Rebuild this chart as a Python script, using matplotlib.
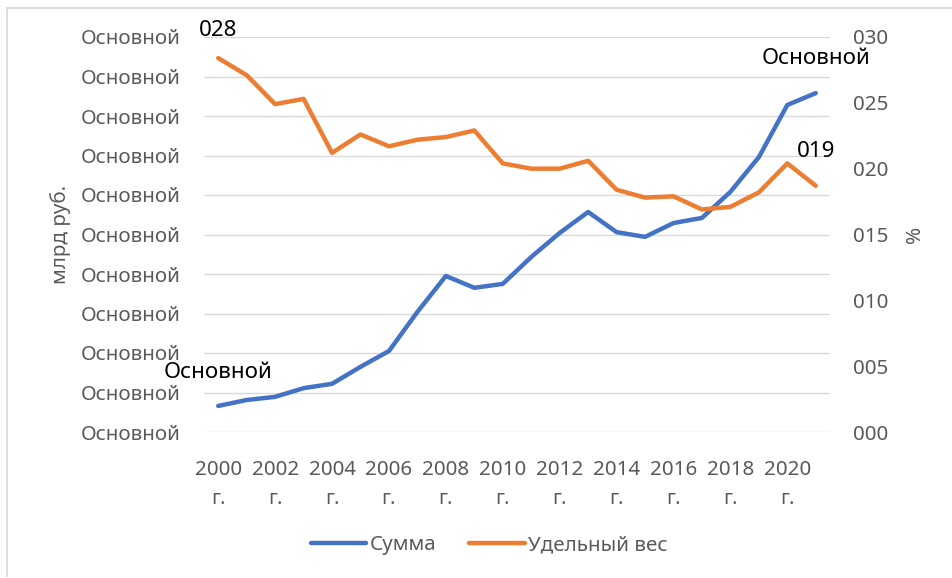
import numpy as np
import matplotlib
matplotlib.use("Agg")
import matplotlib.pyplot as plt
from matplotlib.lines import Line2D
from matplotlib.ticker import FixedLocator, FuncFormatter

plt.rcParams['font.family'] = ['Noto Sans', 'DejaVu Sans']

# data
years = list(range(2000, 2022))
summa = [0.66, 0.81, 0.89, 1.11, 1.22, 1.65, 2.05, 3.04, 3.95, 3.65, 3.75,
         4.43, 5.04, 5.57, 5.06, 4.94, 5.29, 5.42, 6.08, 6.96, 8.28, 8.58]
share = [28.4, 27.1, 24.9, 25.3, 21.2, 22.6, 21.7, 22.2, 22.4, 22.9, 20.4,
         20.0, 20.0, 20.6, 18.4, 17.8, 17.9, 16.9, 17.1, 18.2, 20.4, 18.7]
year_labels = [f"{y}\nг." for y in years[::2]]
left_label = "Основной"

BLUE = '#4472C4'
ORANGE = '#ED7D31'
GREY = '#595959'
FS = 14.8

W, H = 952, 578
fig = plt.figure(figsize=(W / 100, H / 100), dpi=100)
# chart border (only left and top edges are in the picture)
fig.add_artist(Line2D([7 / W, 7 / W], [1 - 576 / H, 1 - 8 / H], transform=fig.transFigure,
                      color='#D9D9D9', linewidth=1.2))
fig.add_artist(Line2D([7 / W, 1], [1 - 8 / H, 1 - 8 / H], transform=fig.transFigure,
                      color='#D9D9D9', linewidth=1.2))

ax = fig.add_axes([204 / W, 1 - 432 / H, 626 / W, 395 / H])
ax2 = ax.twinx()

ax.plot(years, summa, color=BLUE, linewidth=3.2, solid_capstyle='round',
        solid_joinstyle='round', label='Сумма', zorder=3)
ax2.plot(years, share, color=ORANGE, linewidth=3.2, solid_capstyle='round',
         solid_joinstyle='round', label='Удельный вес', zorder=3)

ax.set_xlim(1999.5, 2021.5)
ax.set_ylim(0, 10)
ax2.set_ylim(0, 30)

ax.yaxis.set_major_locator(FixedLocator(np.arange(0, 11)))
ax.yaxis.set_major_formatter(FuncFormatter(lambda v, p: left_label))
ax2.yaxis.set_major_locator(FixedLocator(np.arange(0, 31, 5)))
ax2.yaxis.set_major_formatter(FuncFormatter(lambda v, p: f"{int(round(v)):03d}"))
ax.set_xticks(years[::2])
ax.set_xticklabels(year_labels, linespacing=1.6)

ax.grid(axis='y', color='#D9D9D9', linewidth=1.0)
ax.set_axisbelow(True)
for a in (ax, ax2):
    for s in a.spines.values():
        s.set_visible(False)
    a.tick_params(length=0, labelsize=FS, labelcolor=GREY)
ax.tick_params(axis='y', pad=16.5)
ax2.tick_params(axis='y', pad=16.5)
ax.tick_params(axis='x', pad=20)

ax.set_ylabel('млрд руб.', fontsize=FS, color=GREY, labelpad=7)
ax2.set_ylabel('%', fontsize=FS, color=GREY, labelpad=12, rotation=90)

# data labels
lab = dict(textcoords='offset pixels', ha='center', va='center',
           fontsize=FS + 1.3, color='black', annotation_clip=False)
ax.annotate(left_label, (years[0], summa[0]), xytext=(0, 33), **lab)
ax.annotate(left_label, (years[-1], summa[-1]), xytext=(0, 35), **lab)
ax2.annotate(f"{round(share[0]):03d}", (years[0], share[0]), xytext=(0, 28), **lab)
ax2.annotate(f"{round(share[-1]):03d}", (years[-1], share[-1]), xytext=(0, 34), **lab)

h1, l1 = ax.get_legend_handles_labels()
h2, l2 = ax2.get_legend_handles_labels()
leg = fig.legend(h1 + h2, l1 + l2, loc='center', bbox_to_anchor=(489 / W, 1 - 545 / H),
                 ncol=2, frameon=False, fontsize=FS, handlelength=2.7,
                 handletextpad=0.15, columnspacing=1.6)
for t in leg.get_texts():
    t.set_color(GREY)

fig.savefig('out.png', dpi=100)
